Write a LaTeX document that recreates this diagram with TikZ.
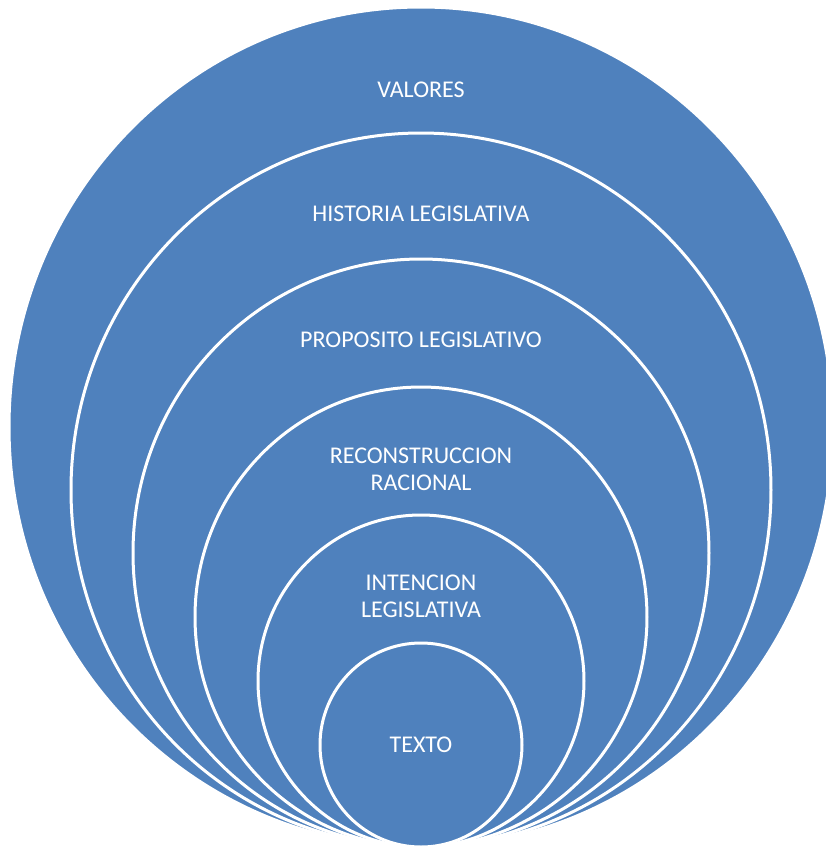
\documentclass[tikz,border=0pt]{standalone}
\usepackage{fontspec}
\setmainfont{Carlito}
\definecolor{ringblue}{HTML}{4F81BD}
\tikzset{
  ring/.style={fill=ringblue, draw=white, line width=1.5pt},
  ringtext/.style={text=white, font=\fontsize{12}{13.5}\selectfont, align=center}
}
\begin{document}
\begin{tikzpicture}[x=0.5pt,y=-0.5pt]
\useasboundingbox (0,0) rectangle (826,848);
\clip (0,0) rectangle (826,848);
% rings, all touching at the bottom
\filldraw[ring] (421,427) ellipse [x radius=412, y radius=420];
\filldraw[ring] (421,490) ellipse [x radius=350, y radius=357];
\filldraw[ring] (421,553) ellipse [x radius=288, y radius=294];
\filldraw[ring] (421,617) ellipse [x radius=226, y radius=230];
\filldraw[ring] (421,681) ellipse [x radius=163, y radius=166];
\filldraw[ring] (421,745) ellipse [x radius=101, y radius=102];
% labels
\node[ringtext] (valores) at (421,89.5) {VALORES};
\node[ringtext] (historia) at (421,214) {HISTORIA LEGISLATIVA};
\node[ringtext] (proposito) at (421,340) {PROPOSITO LEGISLATIVO};
\node[ringtext] (reconstruccion) at (421,469) {RECONSTRUCCION\\RACIONAL};
\node[ringtext] (intencion) at (421,596) {INTENCION\\LEGISLATIVA};
\node[ringtext] (texto) at (421,744.5) {TEXTO};
\end{tikzpicture}
\end{document}
